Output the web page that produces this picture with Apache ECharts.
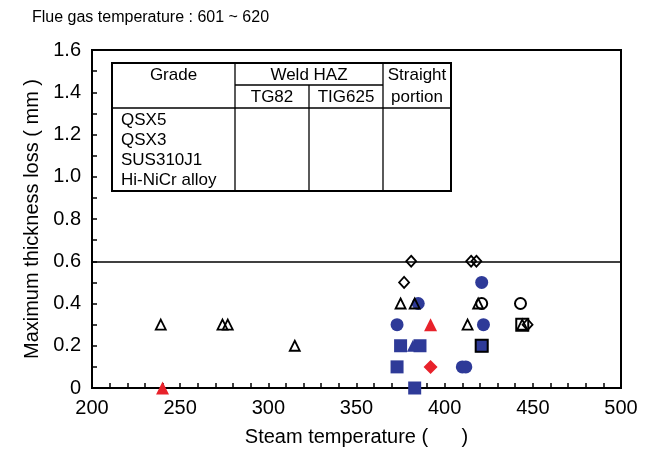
<!DOCTYPE html>
<html>
<head>
<meta charset="utf-8">
<script src="https://cdn.jsdelivr.net/npm/echarts@6/dist/echarts.min.js"></script>
<style>
  html, body { margin: 0; padding: 0; background: #fff; }
  #chart { width: 651px; height: 452px; }
</style>
</head>
<body>
<div id="chart"></div>
<script>
// Steam temperature (x) vs maximum thickness loss (y), grouped by marker type
const openTriangle = [[239, 0.3], [274, 0.3], [277, 0.3], [315, 0.2], [375, 0.4], [383, 0.4], [413, 0.3], [419, 0.4], [444, 0.3]];
const openDiamond = [[381, 0.6], [377, 0.5], [415, 0.6], [418, 0.6], [447, 0.3]];
const openCircle = [[421, 0.4], [443, 0.4]];
const openSquare = [[421, 0.2], [444, 0.3]];
const blueCircle = [[385, 0.4], [421, 0.5], [373, 0.3], [422, 0.3], [410, 0.1], [412, 0.1]];
const blueSquare = [[375, 0.2], [386, 0.2], [373, 0.1], [383, 0], [421, 0.2]];
const blueTriangle = [[382, 0.2]];
const redTriangle = [[240, 0], [392, 0.3]];
const redDiamond = [[392, 0.1]];

const limitLine = 0.6;

const titleText = 'Flue gas temperature : 601 ~ 620';
const xName = 'Steam temperature (      )';
const yName = 'Maximum thickness loss ( mm )';

const tableHead = ['Grade', 'Weld HAZ', 'Straight', 'TG82', 'TIG625', 'portion'];
const grades = ['QSX5', 'QSX3', 'SUS310J1', 'Hi-NiCr alloy'];

const FONT = '"Liberation Sans", Arial, sans-serif';
const BLUE = '#2E3A98';
const RED = '#E8222B';

function filled(data, symbol, size, color) {
  return {
    type: 'scatter', data, symbol, symbolSize: size,
    itemStyle: { color: color, borderWidth: 0, opacity: 1 },
    silent: true, z: 3
  };
}
function open(data, symbol, size, width) {
  return {
    type: 'scatter', data, symbol, symbolSize: size,
    itemStyle: { color: 'rgba(0,0,0,0)', borderColor: '#000', borderWidth: width, opacity: 1 },
    silent: true, z: 4
  };
}

// Legend table drawn as plain graphic shapes
const T = { l: 112, r: 451, t: 63, b: 191, c1: 235, c2: 309, c3: 383, h1: 85, h2: 108 };
const line = (x1, y1, x2, y2, w) => ({
  type: 'line', shape: { x1, y1, x2, y2 },
  style: { stroke: '#000', lineWidth: w }, silent: true, z: 20
});
const txt = (x, y, s, align) => ({
  type: 'text', x, y,
  style: { text: s, fill: '#000', font: '17px ' + FONT, align: align || 'center', verticalAlign: 'middle' },
  silent: true, z: 21
});
const tableGraphic = [
  { type: 'rect', shape: { x: T.l, y: T.t, width: T.r - T.l, height: T.b - T.t },
    style: { fill: '#fff', stroke: '#000', lineWidth: 2 }, silent: true, z: 19 },
  line(T.c1, T.t, T.c1, T.b, 1.3),
  line(T.c2, T.h1, T.c2, T.b, 1.3),
  line(T.c3, T.t, T.c3, T.b, 1.3),
  line(T.c1, T.h1, T.c3, T.h1, 1.3),
  line(T.l, T.h2, T.r, T.h2, 1.3),
  txt((T.l + T.c1) / 2, 75, tableHead[0]),
  txt((T.c1 + T.c3) / 2, 75, tableHead[1]),
  txt((T.c3 + T.r) / 2, 75, tableHead[2]),
  txt((T.c1 + T.c2) / 2, 97, tableHead[3]),
  txt((T.c2 + T.c3) / 2, 97, tableHead[4]),
  txt((T.c3 + T.r) / 2, 97, tableHead[5])
].concat(grades.map((g, i) => txt(121, 120 + i * 20, g, 'left')));

const axisCommon = {
  type: 'value',
  splitLine: { show: false },
  axisLine: { show: true, lineStyle: { color: '#000', width: 2 } },
  axisTick: { show: true, inside: true, length: 5, lineStyle: { color: '#000', width: 1.5 } },
  minorTick: { show: true, length: 5, lineStyle: { color: '#000', width: 1.5 } },
  minorSplitLine: { show: false },
  nameLocation: 'middle',
  nameTextStyle: { fontSize: 20, color: '#000', fontFamily: FONT }
};

const option = {
  animation: false,
  backgroundColor: '#fff',
  title: {
    text: titleText, left: 27, top: 5,
    textStyle: { fontSize: 16, fontWeight: 'normal', color: '#000', fontFamily: FONT }
  },
  grid: {
    left: 92, right: 30, top: 50, bottom: 59,
    show: true, borderColor: '#000', borderWidth: 2, backgroundColor: 'rgba(0,0,0,0)'
  },
  xAxis: Object.assign({}, axisCommon, {
    min: 200, max: 500, interval: 50,
    minorTick: Object.assign({}, axisCommon.minorTick, { splitNumber: 5 }),
    name: xName, nameGap: 39,
    axisLabel: { fontSize: 20, color: '#000', fontFamily: FONT, margin: 10 }
  }),
  yAxis: Object.assign({}, axisCommon, {
    min: 0, max: 1.6, interval: 0.2,
    minorTick: Object.assign({}, axisCommon.minorTick, { splitNumber: 2 }),
    name: yName, nameGap: 46,
    axisLabel: {
      fontSize: 20, color: '#000', fontFamily: FONT, margin: 11,
      formatter: v => (v === 0 ? '0' : v.toFixed(1))
    }
  }),
  series: [
    {
      type: 'line', data: [], silent: true,
      markLine: {
        silent: true, symbol: 'none', animation: false,
        label: { show: false },
        lineStyle: { color: '#000', width: 1.5, type: 'solid', opacity: 1 },
        data: [{ yAxis: limitLine }]
      }
    },
    filled(blueSquare, 'rect', 13, BLUE),
    filled(blueCircle, 'circle', 13, BLUE),
    filled(blueTriangle, 'triangle', 12, BLUE),
    filled(redTriangle, 'triangle', 13, RED),
    filled(redDiamond, 'diamond', 14, RED),
    open(openSquare, 'rect', 12, 2),
    open(openCircle, 'circle', 11, 2),
    open(openTriangle, 'triangle', 10, 1.8),
    open(openDiamond, 'diamond', [10, 11], 1.8)
  ],
  graphic: tableGraphic
};

const chart = echarts.init(document.getElementById('chart'), null, { renderer: 'canvas' });
chart.setOption(option);
</script>
</body>
</html>
